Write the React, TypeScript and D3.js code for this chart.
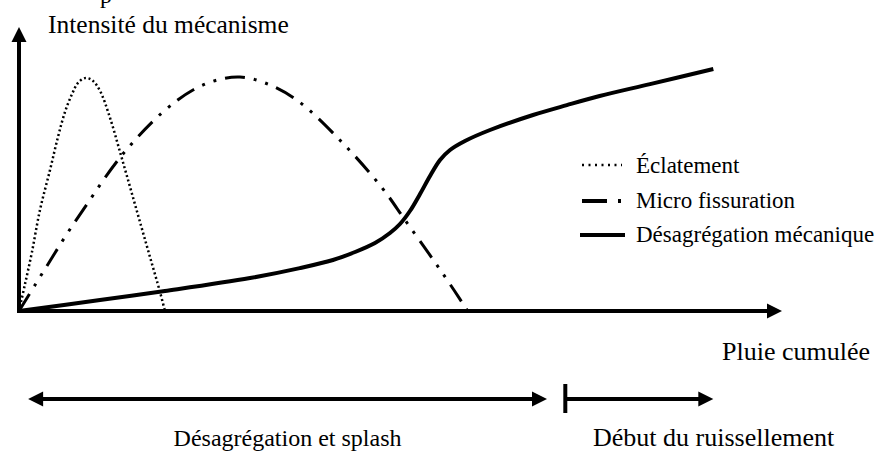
import React from "react";
import * as d3 from "d3";

// Abstract units: x = cumulated rain (0..100), y = intensity (0..100)
const eclatementX = [0, 0.79, 1.7, 2.75, 4.06, 5.11, 6.03, 6.95, 7.73, 8.65, 9.57, 10.62, 11.93, 13.24, 14.55, 15.86, 17.17, 18.48, 19.13];
const eclatementY = [0, 9.5, 20.8, 35.6, 49.6, 61.3, 70.1, 76.4, 80.3, 82.0, 81.3, 77.5, 68.0, 56.0, 43.7, 31.3, 19.0, 6.7, 0];

const microX = [0, 2.1, 4.06, 6.03, 8.65, 13.5, 18.87, 22.8, 25.95, 28.96, 32.24, 36.4, 42.3, 47.6, 50.6, 54.3, 57.0, 58.8];
const microY = [0, 9.15, 17.6, 26.1, 36.6, 54.9, 70.1, 77.8, 81.3, 82.4, 80.3, 74.3, 59.5, 43.3, 32.0, 18.0, 7.4, 0];

const desagX = [0, 10.62, 19.13, 30.28, 36.8, 41.15, 44.04, 46.66, 48.62, 49.93, 51.24, 52.56, 53.87, 55.18, 56.49, 58.45, 61.73, 67.37, 71.8, 76.1, 82.7, 91.0];
const desagY = [0, 3.87, 7.04, 11.6, 15.1, 17.96, 20.77, 23.94, 27.46, 30.63, 35.21, 41.2, 47.54, 53.17, 56.69, 59.86, 63.73, 69.01, 72.5, 75.7, 79.9, 85.2];

const seriesNames = ["Éclatement", "Micro fissuration", "Désagrégation mécanique"];

const phaseLabels = ["Désagrégation et splash", "Début du ruissellement"];
const phaseStart = [1.2, 71.6];
const phaseEnd = [69.2, 91.0];

const yAxisLabel = "Intensité du mécanisme";
const xAxisLabel = "Pluie cumulée";

const W = 877;
const H = 453;
const FONT = "Liberation Serif, Times New Roman, serif";

export default function App() {
  const x = d3.scaleLinear().domain([0, 100]).range([19, 782]);
  const y = d3.scaleLinear().domain([0, 100]).range([311, 27]);

  const line = d3
    .line<[number, number]>()
    .x((d) => x(d[0]))
    .y((d) => y(d[1]))
    .curve(d3.curveCatmullRom.alpha(0.5));

  const zip = (xs: number[], ys: number[]) => xs.map((v, i) => [v, ys[i]] as [number, number]);

  const ecl = line(zip(eclatementX, eclatementY)) || "";
  const mic = line(zip(microX, microY)) || "";
  const des = line(zip(desagX, desagY)) || "";

  const x0 = x(0);
  const y0 = y(0);
  const yTop = y(100);
  const xEnd = x(100);
  const ah = 15; // arrow head length
  const aw = 7.5; // arrow head half width

  const arrowY = 399;

  const styles = [
    { dash: "2 2.6", width: 2.5, legendDash: "2 4.5" },
    { dash: "20 9 3 9 3 9", width: 3, legendDash: "25 11 3 100" },
    { dash: "none", width: 4, legendDash: "none" },
  ];
  const legendY = [165, 201, 235];
  const legendTextY = [173, 208, 242];

  return (
    <svg
      width={W}
      height={H}
      viewBox={`0 0 ${W} ${H}`}
      style={{ position: "absolute", left: 0, top: 0, background: "#fff" }}
      fontFamily={FONT}
    >
      <rect x={0} y={0} width={W} height={H} fill="#fff" />
      {/* cut-off text at the top */}
      <text x={100} y={3} fontSize={24} fill="#000" fontFamily={FONT}>p</text>

      {/* axes */}
      <line x1={x0} y1={y0} x2={x0} y2={yTop + ah - 1} stroke="#000" strokeWidth={4} />
      <path d={`M${x0},${yTop} L${x0 - aw},${yTop + ah} L${x0 + aw},${yTop + ah} Z`} fill="#000" />
      <line x1={x0 - 2} y1={y0} x2={xEnd - ah + 1} y2={y0} stroke="#000" strokeWidth={4} />
      <path d={`M${xEnd},${y0} L${xEnd - ah},${y0 - aw} L${xEnd - ah},${y0 + aw} Z`} fill="#000" />

      <text x={48} y={33} fontSize={25.5} fill="#000" fontFamily={FONT}>{yAxisLabel}</text>
      <text x={870} y={360} fontSize={26} fill="#000" textAnchor="end" fontFamily={FONT}>{xAxisLabel}</text>

      {/* curves */}
      <path d={ecl} fill="none" stroke="#000" strokeWidth={styles[0].width} strokeDasharray={styles[0].dash} />
      <path d={mic} fill="none" stroke="#000" strokeWidth={styles[1].width} strokeDasharray={styles[1].dash} />
      <path d={des} fill="none" stroke="#000" strokeWidth={styles[2].width} />

      {/* legend */}
      {seriesNames.map((name, i) => (
        <g key={name}>
          <line
            x1={i === 2 ? 580 : 582}
            x2={i === 2 ? 625 : 622}
            y1={legendY[i]}
            y2={legendY[i]}
            stroke="#000"
            strokeWidth={i === 0 ? 2.5 : 4}
            strokeDasharray={styles[i].legendDash}
          />
          <text x={636} y={legendTextY[i]} fontSize={23} fill="#000" fontFamily={FONT}>{name}</text>
        </g>
      ))}

      {/* phase arrows */}
      <line x1={x(phaseStart[0]) + ah - 1} x2={x(phaseEnd[0]) - ah + 1} y1={arrowY} y2={arrowY} stroke="#000" strokeWidth={4} />
      <path
        d={`M${x(phaseStart[0])},${arrowY} L${x(phaseStart[0]) + ah},${arrowY - aw} L${x(phaseStart[0]) + ah},${arrowY + aw} Z`}
        fill="#000"
      />
      <path
        d={`M${x(phaseEnd[0])},${arrowY} L${x(phaseEnd[0]) - ah},${arrowY - aw} L${x(phaseEnd[0]) - ah},${arrowY + aw} Z`}
        fill="#000"
      />
      <line x1={x(phaseStart[1])} x2={x(phaseStart[1])} y1={384} y2={413} stroke="#000" strokeWidth={4} />
      <line x1={x(phaseStart[1])} x2={x(phaseEnd[1]) - ah + 1} y1={arrowY} y2={arrowY} stroke="#000" strokeWidth={4} />
      <path
        d={`M${x(phaseEnd[1])},${arrowY} L${x(phaseEnd[1]) - ah},${arrowY - aw} L${x(phaseEnd[1]) - ah},${arrowY + aw} Z`}
        fill="#000"
      />

      <text x={(x(phaseStart[0]) + x(phaseEnd[0])) / 2} y={446} fontSize={24} fill="#000" textAnchor="middle" fontFamily={FONT}>
        {phaseLabels[0]}
      </text>
      <text x={593} y={446} fontSize={26} fill="#000" fontFamily={FONT}>{phaseLabels[1]}</text>
    </svg>
  );
}
